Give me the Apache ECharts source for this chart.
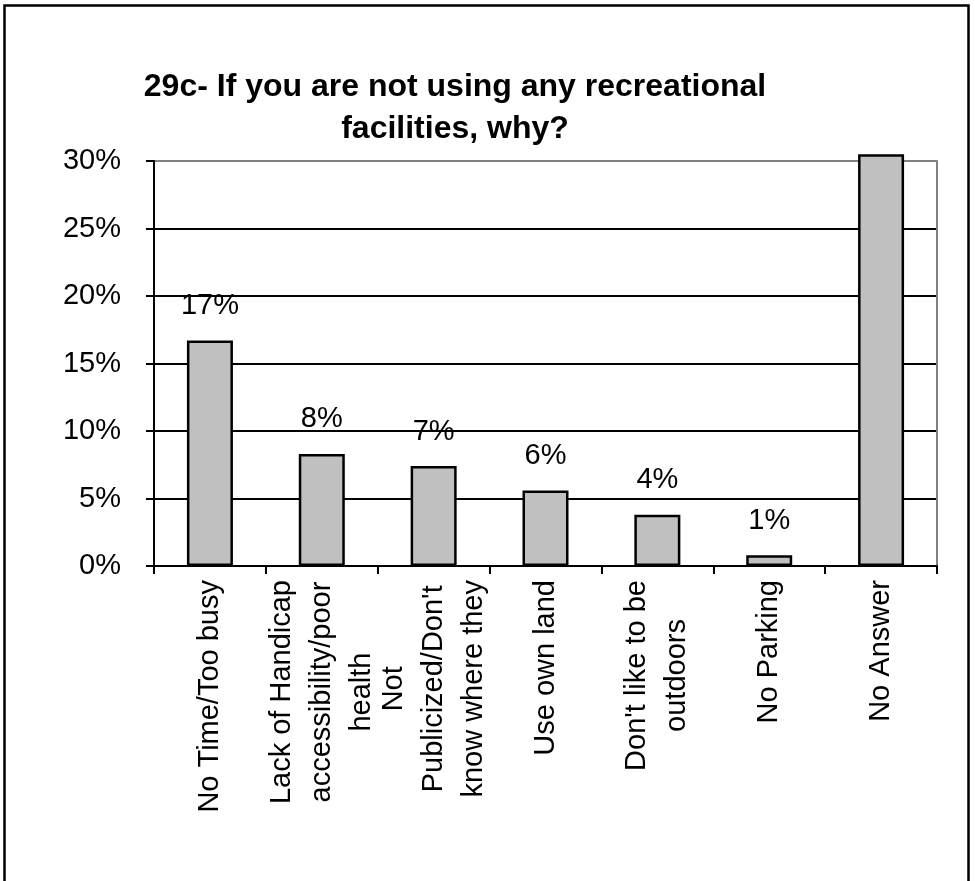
<!DOCTYPE html>
<html>
<head>
<meta charset="utf-8">
<script src="https://cdn.jsdelivr.net/npm/echarts@6/dist/echarts.min.js"></script>
<style>
html,body{margin:0;padding:0;background:#fff;}
#chart{width:975px;height:881px;}
</style>
</head>
<body>
<div id="chart"></div>
<script>
const titleText = "29c- If you are not using any recreational\nfacilities, why?";
const categories = [
  "No Time/Too busy",
  "Lack of Handicap\naccessibility/poor\nhealth",
  "Not\nPublicized/Don't\nknow where they",
  "Use own land",
  "Don't like to be\noutdoors",
  "No Parking",
  "No Answer"
];
// "No Answer" runs past the top of the 30% axis in the picture (clipped there)
const percentValues = [16.7, 8.3, 7.4, 5.6, 3.8, 0.8, 30.5];
const yTicks = { min: 0, max: 30, interval: 5 };

const FONT = "'Liberation Sans', Arial, sans-serif";
const chart = echarts.init(document.getElementById('chart'), null, {renderer: 'canvas'});

const option = {
  backgroundColor: '#ffffff',
  animation: false,
  graphic: [
    {
      type: 'rect',
      shape: {x: 4.5, y: 5.5, width: 964, height: 900},
      style: {fill: 'none', stroke: '#000', lineWidth: 2.5},
      silent: true
    },
    {
      type: 'text',
      x: 455, y: 66,
      style: {
        text: titleText,
        textAlign: 'center',
        fontFamily: FONT,
        fontWeight: 'bold',
        fontSize: 32,
        lineHeight: 42,
        fill: '#000'
      }
    }
  ],
  grid: {left: 154, right: 38, top: 161, bottom: 315, containLabel: false},
  xAxis: {
    type: 'category',
    data: categories,
    boundaryGap: true,
    axisLine: {show: true, lineStyle: {color: '#000', width: 2}},
    axisTick: {show: true, length: 8, lineStyle: {color: '#000', width: 2}},
    axisLabel: {
      interval: 0,
      rotate: 90,
      margin: 14,
      formatter: function (v) {
        return v.split('\n').map(function (l) { return '{c|' + l + '}'; }).join('\n');
      },
      rich: {
        c: {align: 'center', fontFamily: FONT, fontSize: 29, lineHeight: 40, color: '#000'}
      }
    },
    splitLine: {show: false}
  },
  yAxis: [
    {
      type: 'value',
      min: yTicks.min,
      max: yTicks.max,
      interval: yTicks.interval,
      axisLine: {show: true, lineStyle: {color: '#000', width: 2}},
      axisTick: {show: true, length: 8, lineStyle: {color: '#000', width: 2}},
      axisLabel: {
        formatter: '{value}%',
        fontFamily: FONT,
        fontSize: 29,
        color: '#000',
        margin: 33
      },
      splitLine: {
        show: true,
        lineStyle: {color: ['#000', '#000', '#000', '#000', '#000', '#000', '#808080'], width: 2}
      }
    },
    {
      type: 'value',
      position: 'right',
      min: yTicks.min,
      max: yTicks.max,
      interval: yTicks.interval,
      axisLine: {show: true, lineStyle: {color: '#808080', width: 2}},
      axisTick: {show: false},
      axisLabel: {show: false},
      splitLine: {show: false}
    }
  ],
  series: [
    {
      type: 'bar',
      data: percentValues,
      barWidth: 46,
      clip: false,
      itemStyle: {color: '#c0c0c0', borderColor: '#000', borderWidth: 2.5},
      label: {
        show: true,
        position: 'top',
        distance: 20,
        fontFamily: FONT,
        fontSize: 29,
        color: '#000',
        formatter: function (p) {
          return p.value > yTicks.max ? '' : Math.round(p.value) + '%';
        }
      }
    }
  ]
};
chart.setOption(option);
</script>
</body>
</html>
